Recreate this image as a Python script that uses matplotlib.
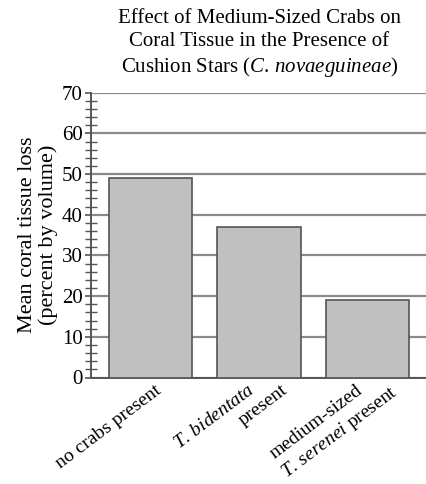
import matplotlib
matplotlib.use("Agg")
import matplotlib.pyplot as plt
from matplotlib.ticker import MultipleLocator

categories = [
    ["no crabs present"],
    ["$\\it{T.\\,bidentata}$", "present"],
    ["medium-sized", "$\\it{T.\\,serenei}$ present"],
]
values = [49, 37, 19]
yticks = [0, 10, 20, 30, 40, 50, 60, 70]

plt.rcParams['font.family'] = ['Liberation Serif', 'DejaVu Serif']
plt.rcParams['mathtext.fontset'] = 'custom'
plt.rcParams['mathtext.rm'] = 'Liberation Serif'
plt.rcParams['mathtext.it'] = 'Liberation Serif:italic'

fig = plt.figure(figsize=(4.27, 4.84), dpi=100)
ax = fig.add_axes([91/427, 1-377.5/484, 1-91/427, (377.5-92.7)/484])

x = list(range(len(categories)))
ax.bar(x, values, width=0.77, color='#c0c0c0', edgecolor='#555555', linewidth=1.2, zorder=3)

ax.set_xlim(-0.55, 2.55)
ax.set_ylim(0, 70)
ax.set_yticks(yticks)
ax.yaxis.set_minor_locator(MultipleLocator(2))
ax.grid(axis='y', which='major', color='#8a8a8a', linewidth=1.6, zorder=0)
ax.set_axisbelow(True)

for s in ['top', 'right']:
    ax.spines[s].set_visible(False)
for s in ['left', 'bottom']:
    ax.spines[s].set_color('#555555')
    ax.spines[s].set_linewidth(1.4)

ax.tick_params(axis='y', which='major', direction='out', length=4, width=1.2, color='#555555', labelsize=15, pad=2)
ax.tick_params(axis='y', which='minor', direction='inout', length=9, width=1.0, color='#555555')
ax.set_xticks(x)
ax.set_xticklabels([])
ax.tick_params(axis='x', length=0)

# category labels: each line rotated, right ends aligned on one horizontal level
px = 0.72  # points per pixel at dpi 100
for i, lines in enumerate(categories):
    if len(lines) == 1:
        shifts = [4]
    else:
        shifts = [-12, 22]
    for line, dx in zip(lines, shifts):
        ax.annotate(line, xy=(i, 0), xycoords='data',
                    xytext=(dx * px, -4 * px), textcoords='offset points',
                    rotation=37, ha='right', va='top', rotation_mode='anchor',
                    fontsize=14, annotation_clip=False)

ax.set_ylabel("Mean coral tissue loss\n(percent by volume)", fontsize=16, linespacing=1.05, labelpad=3)

fig.text(0.607, 1 - 9/484, "Effect of Medium-Sized Crabs on\nCoral Tissue in the Presence of\nCushion Stars ($\\it{C.\\,novaeguineae}$)",
         ha='center', va='top', fontsize=15, linespacing=1.25)

fig.savefig("out.png", dpi=100)
